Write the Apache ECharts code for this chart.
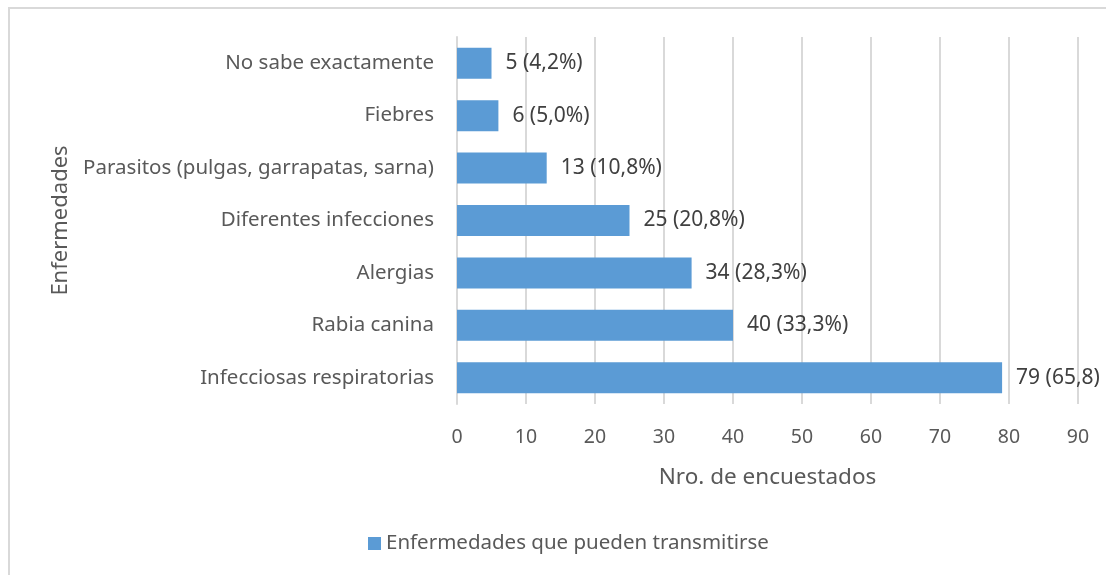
<!DOCTYPE html>
<html>
	<head>
		<meta charset="utf-8">
		<title>Enfermedades</title>
		<script src="https://cdn.jsdelivr.net/npm/echarts@6/dist/echarts.min.js"></script>
		<style>
			body { margin: 0; background: #fff; }
			#box { position: absolute; left: 8px; top: 7px; width: 1110px; height: 600px; border: 2px solid #d9d9d9; box-sizing: border-box; }
			#main { position: absolute; left: 0; top: 0; width: 1106px; height: 575px; }
		</style>
	</head>
	<body>
		<div id="box"></div>
		<div id="main"></div>
		<script type="text/javascript">
			// datos (de abajo hacia arriba)
			var categorias = ['Infecciosas respiratorias', 'Rabia canina', 'Alergias', 'Diferentes infecciones',
				'Parasitos (pulgas, garrapatas, sarna)', 'Fiebres', 'No sabe exactamente'];
			var valores = [79, 40, 34, 25, 13, 6, 5];
			var porcentajes = ['65,8', '33,3%', '28,3%', '20,8%', '10,8%', '5,0%', '4,2%'];
			var ticksX = [0, 10, 20, 30, 40, 50, 60, 70, 80, 90];

			var fuente = '"Noto Sans", sans-serif';
			var myChart = echarts.init(document.getElementById('main'));
			var option = {
				textStyle: { fontFamily: fuente },
				grid: { left: 457, right: 28, top: 37, bottom: 171 },
				legend: {
					bottom: 16,
					left: 363,
					itemWidth: 13,
					itemHeight: 13,
					icon: 'rect',
					itemGap: 5,
					textStyle: { fontSize: 20.5, color: '#595959', fontFamily: fuente },
					data: ['Enfermedades que pueden transmitirse']
				},
				xAxis: {
					type: 'value',
					min: ticksX[0],
					max: ticksX[ticksX.length - 1],
					interval: 10,
					name: 'Nro. de encuestados',
					nameLocation: 'middle',
					nameGap: 62,
					nameTextStyle: { fontSize: 22.5, color: '#595959' },
					axisLine: { show: false },
					axisTick: { show: false },
					axisLabel: { fontSize: 19.5, color: '#595959', margin: 23 },
					splitLine: { lineStyle: { color: '#d9d9d9', width: 2 } }
				},
				yAxis: {
					type: 'category',
					data: categorias,
					name: 'Enfermedades',
					nameLocation: 'middle',
					nameGap: 385,
					nameTextStyle: { fontSize: 22, color: '#595959' },
					axisLine: { show: true, lineStyle: { color: '#d9d9d9', width: 2 } },
					axisTick: { show: false },
					axisLabel: { fontSize: 20.5, color: '#595959', margin: 23 }
				},
				series: [{
					name: 'Enfermedades que pueden transmitirse',
					type: 'bar',
					data: valores,
					barWidth: 31,
					itemStyle: { color: '#5b9bd5' },
					label: {
						show: true,
						position: 'right',
						distance: 14,
						fontSize: 21,
						color: '#404040',
						formatter: function(p) {
							return p.value + ' (' + porcentajes[p.dataIndex] + ')';
						}
					}
				}]
			};
			myChart.setOption(option);
		</script>
	</body>
</html>
